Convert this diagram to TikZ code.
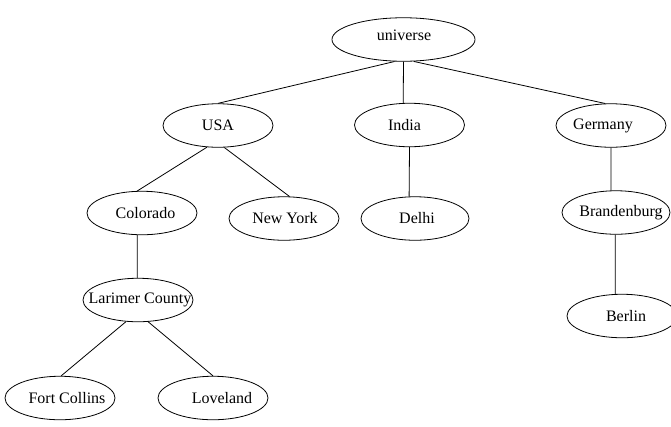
\documentclass[tikz,border=0pt]{standalone}
\usepackage{fontspec}
\setmainfont{Liberation Serif}
\usetikzlibrary{shapes.geometric}
% #1 horizontal shift, #2 vertical raise, #3 text
\newcommand\lbl[3]{\makebox[0pt]{\hspace*{#1pt}\smash{\raisebox{#2pt}{#3}}\hspace*{-#1pt}}\vphantom{#3}}
\tikzset{
  tnode/.style={draw, ellipse, line width=0.8pt, inner sep=0pt,
    minimum width=110pt, minimum height=43.5pt,
    font=\fontsize{16}{19}\selectfont},
  tedge/.style={line width=0.8pt}
}
\begin{document}
\begin{tikzpicture}[x={(1pt,0pt)}, y={(0pt,-1pt)}]
\useasboundingbox (0,0) rectangle (671,426);
\node[tnode, minimum width=143pt] (universe) at (403.5,39.5) {\lbl{0.5}{4}{universe}};
\node[tnode] (usa) at (218,125.5) {\lbl{0}{0}{USA}};
\node[tnode] (india) at (409.5,125) {\lbl{-5}{0}{India}};
\node[tnode] (germany) at (611,125.5) {\lbl{-8}{0}{Germany}};
\node[tnode] (colorado) at (142,213) {\lbl{3.5}{0}{Colorado}};
\node[tnode] (newyork) at (284,218.5) {\lbl{1}{0}{New York}};
\node[tnode, minimum width=108pt] (delhi) at (415,218.5) {\lbl{2}{0}{Delhi}};
\node[tnode, minimum width=108pt] (brandenburg) at (616,212.5) {\lbl{5}{0}{Brandenburg}};
\node[tnode] (larimer) at (138,300) {\lbl{2}{0}{Larimer County}};
\node[tnode] (berlin) at (622,316) {\lbl{4}{0}{Berlin}};
\node[tnode] (fortcollins) at (60,398) {\lbl{7}{0}{Fort Collins}};
\node[tnode] (loveland) at (213,398) {\lbl{9}{0}{Loveland}};

\draw[tedge] (universe.-112.5) -- (usa.90);
\draw[tedge] (universe.-90) -- (india.106.5);
\draw[tedge] (universe.-65.1) -- (germany.105.6);
\draw[tedge] (india.-90) -- (delhi.105.6);
\draw[tedge] (germany.-90) -- (brandenburg.103);
\draw[tedge] (brandenburg.-92.7) -- (berlin.107.6);
\draw[tedge] (usa.-117.6) -- (colorado.102.8);
\draw[tedge] (usa.-74.3) -- (newyork.76.9);
\draw[tedge] (colorado.-102.8) -- (larimer.92.6);
\draw[tedge] (larimer.-119.2) -- (fortcollins.87.4);
\draw[tedge] (larimer.-65.2) -- (loveland.90);
\end{tikzpicture}
\end{document}
